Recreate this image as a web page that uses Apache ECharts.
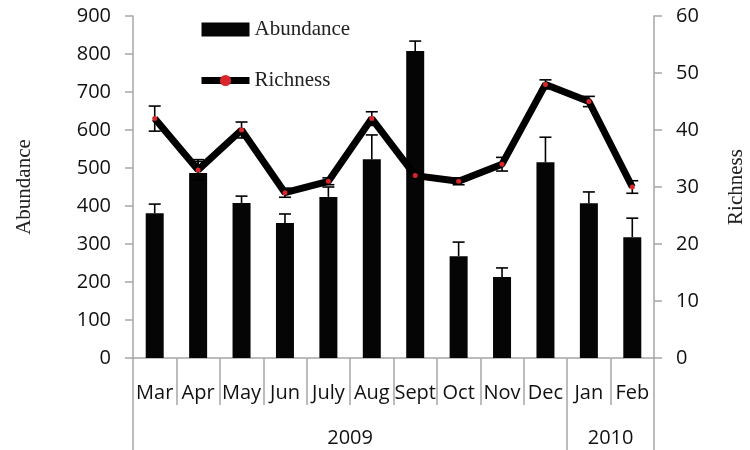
<!DOCTYPE html>
<html><head><meta charset="utf-8">
<script src="https://cdn.jsdelivr.net/npm/echarts@6/dist/echarts.min.js"></script>
<style>html,body{margin:0;padding:0;background:#fff}#c{width:750px;height:450px}</style>
</head><body><div id="c"></div>
<script>
const months = ['Mar','Apr','May','Jun','July','Aug','Sept','Oct','Nov','Dec','Jan','Feb'];
const years = ['2009','2010'];
const yearSpan = [10, 2];
const abundance = [381, 487, 408, 355, 424, 523, 808, 268, 213, 515, 407, 318];
const abundanceErr = [24, 30, 18, 24, 26, 64, 26, 37, 24, 66, 30, 50];
const richness = [42, 33, 40, 29, 31, 42, 32, 31, 34, 48, 45, 30];
const richnessErr = [2.2, 1.8, 1.4, 0.8, 0.6, 1.2, 0, 0.6, 1.2, 0.8, 0.9, 1.1];
const abundanceTicks = [0, 900, 100];
const richnessTicks = [0, 60, 10];

const FONT = 'Open Sans';
const SERIF = 'Liberation Serif';
const AX = '#a6a6a6';

const yearBounds = [0];
yearSpan.forEach(s => yearBounds.push(yearBounds[yearBounds.length - 1] + s));
const yearCentres = years.map((y, i) => (yearBounds[i] + yearBounds[i + 1]) / 2);

function errItem(both) {
  return function (params, api) {
    const x = api.value(0), v = api.value(1), e = api.value(2);
    if (!e) return null;
    const top = api.coord([x, v + e]);
    const bot = api.coord([x, both ? v - e : v]);
    const hw = 6;
    const st = { stroke: '#000', lineWidth: 1.6 };
    const ch = [
      { type: 'line', shape: { x1: top[0], y1: bot[1], x2: top[0], y2: top[1] }, style: st },
      { type: 'line', shape: { x1: top[0] - hw, y1: top[1], x2: top[0] + hw, y2: top[1] }, style: st }
    ];
    if (both) ch.push({ type: 'line', shape: { x1: top[0] - hw, y1: bot[1], x2: top[0] + hw, y2: bot[1] }, style: st });
    return { type: 'group', children: ch };
  };
}

const chart = echarts.init(document.getElementById('c'), null, { renderer: 'canvas' });
chart.setOption({
  animation: false,
  backgroundColor: '#fff',
  grid: { left: 133, right: 96, top: 16, bottom: 92, outerBoundsMode: 'none', containLabel: false },
  legend: {
    orient: 'vertical', left: 193, top: 14, itemGap: 30,
    itemWidth: 48, itemHeight: 14,
    textStyle: { fontFamily: SERIF, fontSize: 21, color: '#222' },
    data: [{ name: 'Abundance', icon: 'rect' },
           { name: 'Richness', lineStyle: { width: 7, color: '#000' } }]
  },
  xAxis: [{
    type: 'category', data: months, boundaryGap: true,
    axisLine: { lineStyle: { color: AX, width: 1.5 } },
    axisTick: { show: true, length: 47, lineStyle: { color: AX, width: 1.5 } },
    axisLabel: { interval: 0, margin: 25, fontFamily: FONT, fontSize: 20, color: '#111' }
  }, {
    type: 'value', min: 0, max: months.length, position: 'bottom',
    axisLine: { show: false }, splitLine: { show: false },
    axisTick: { show: true, customValues: yearBounds, length: 92, lineStyle: { color: AX, width: 1.5 } },
    axisLabel: {
      customValues: yearCentres, margin: 70, fontFamily: FONT, fontSize: 20, color: '#111',
      formatter: v => { const i = yearCentres.indexOf(v); return i >= 0 ? years[i] : ''; }
    }
  }],
  yAxis: [{
    type: 'value', min: abundanceTicks[0], max: abundanceTicks[1], interval: abundanceTicks[2],
    name: 'Abundance', nameLocation: 'middle', nameGap: 98, nameRotate: 90,
    nameTextStyle: { fontFamily: SERIF, fontSize: 21, color: '#222' },
    axisLine: { show: true, lineStyle: { color: AX, width: 1.5 } },
    axisTick: { show: true, length: 8, lineStyle: { color: AX, width: 1.5 } },
    splitLine: { show: false },
    axisLabel: { margin: 22, fontFamily: FONT, fontSize: 20, color: '#111' }
  }, {
    type: 'value', min: richnessTicks[0], max: richnessTicks[1], interval: richnessTicks[2], position: 'right',
    name: 'Richness', nameLocation: 'middle', nameGap: 72, nameRotate: 90,
    nameTextStyle: { fontFamily: SERIF, fontSize: 21, color: '#222' },
    axisLine: { show: true, lineStyle: { color: AX, width: 1.5 } },
    axisTick: { show: true, length: 8, lineStyle: { color: AX, width: 1.5 } },
    splitLine: { show: false },
    axisLabel: { margin: 22, fontFamily: FONT, fontSize: 20, color: '#111' }
  }],
  series: [{
    name: 'Abundance', type: 'bar', data: abundance, barWidth: 18,
    itemStyle: { color: '#050505' }, z: 2
  }, {
    type: 'custom', renderItem: errItem(false), z: 3,
    data: abundance.map((v, i) => [i, v, abundanceErr[i]])
  }, {
    name: 'Richness', type: 'line', yAxisIndex: 1, data: richness,
    lineStyle: { color: '#000', width: 7 }, itemStyle: { color: '#d9262b', borderWidth: 0 },
    symbol: 'circle', symbolSize: 5, showSymbol: true, z: 5
  }, {
    type: 'custom', yAxisIndex: 1, renderItem: errItem(true), z: 4,
    data: richness.map((v, i) => [i, v, richnessErr[i]])
  }]
});
</script></body></html>
